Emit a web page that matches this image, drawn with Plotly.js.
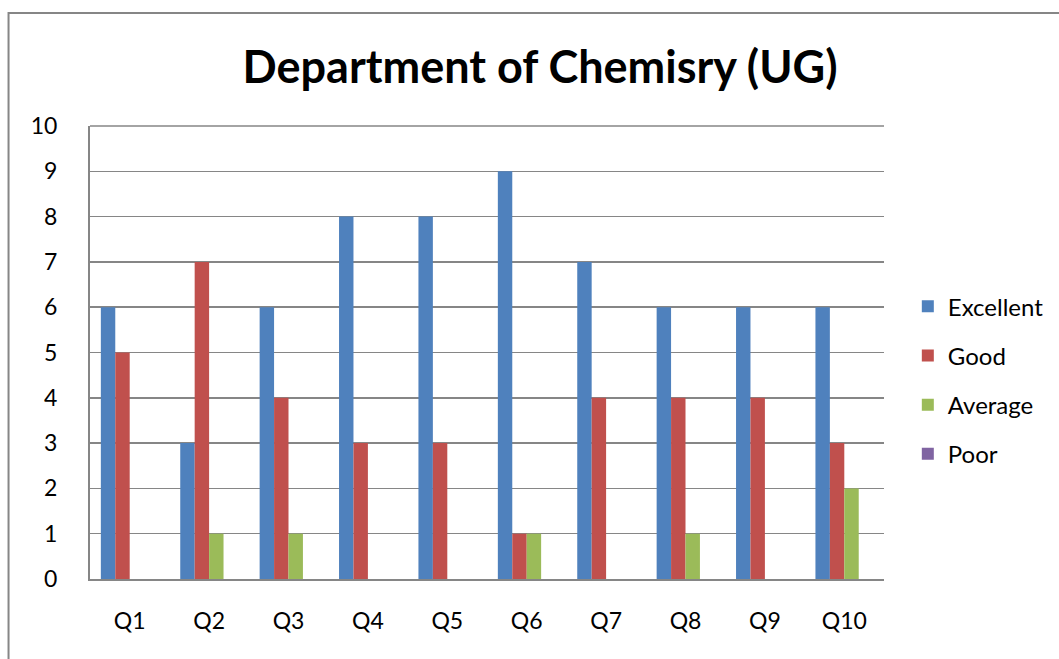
<!DOCTYPE html>
<html>
<head>
<meta charset="utf-8">
<script src="https://cdn.plot.ly/plotly-3.0.1.min.js"></script>
<style>html,body{margin:0;padding:0;background:#fff;}#chart{width:1059px;height:659px;}</style>
</head>
<body>
<div id="chart"></div>
<script>
const categories = ["Q1","Q2","Q3","Q4","Q5","Q6","Q7","Q8","Q9","Q10"];
const excellent = [6,3,6,8,8,9,7,6,6,6];
const good      = [5,7,4,3,3,1,4,4,4,3];
const average   = [0,1,1,0,0,1,0,1,0,2];
const poor      = [0,0,0,0,0,0,0,0,0,0];
const seriesNames = ["Excellent","Good","Average","Poor"];
const seriesColors = ["#4F81BD","#C0504D","#9BBB59","#8064A2"];
const seriesValues = [excellent, good, average, poor];

const traces = seriesValues.map((vals, i) => ({
  type: "bar",
  name: seriesNames[i],
  x: categories,
  y: vals,
  legendgroup: "g" + i,
  marker: {color: seriesColors[i], line: {width: 0}}
}));

const font = "Lato, 'Open Sans', sans-serif";
const layout = {
  width: 1059, height: 659,
  margin: {l: 90, r: 175, t: 126, b: 80, autoexpand: false},
  paper_bgcolor: "#fff", plot_bgcolor: "#fff",
  barmode: "group",
  bargap: 0.273, bargroupgap: 0,
  font: {family: font, size: 23, color: "#000"},
  title: {text: "<b>Department of Chemisry (UG)</b>", x: 0.51, xref: "container", xanchor: "center",
          y: 0.898, yref: "container", yanchor: "middle", font: {family: font, size: 45, color: "#000"}},
  xaxis: {showgrid: false, showline: true, linecolor: "#868686", linewidth: 2, ticks: "",
          ticklabelstandoff: 20, tickfont: {size: 23}, fixedrange: true, mirror: false, automargin: false},
  yaxis: {range: [0, 10], dtick: 1, showgrid: true, gridcolor: "#868686", gridwidth: 1.5,
          showline: true, linecolor: "#868686", linewidth: 2, ticks: "", zeroline: false,
          ticklabelstandoff: 26, tickfont: {size: 23}, automargin: false},
  showlegend: true,
  legend: {x: 1.03, xanchor: "left", y: 0.439, yanchor: "middle", tracegroupgap: 15,
           font: {size: 24}, bgcolor: "rgba(0,0,0,0)", itemwidth: 30},
  shapes: [
    {type: "rect", xref: "paper", yref: "paper", x0: -0.1026, x1: 1.3, y0: -0.3, y1: 1.2494,
     line: {color: "#868686", width: 2}, fillcolor: "rgba(0,0,0,0)", layer: "below"},
    {type: "line", xref: "paper", yref: "paper", x0: 0, x1: 1, y0: 1, y1: 1,
     line: {color: "#868686", width: 1.5}}
  ]
};
Plotly.newPlot("chart", traces, layout, {displayModeBar: false, staticPlot: true});
</script>
</body>
</html>
